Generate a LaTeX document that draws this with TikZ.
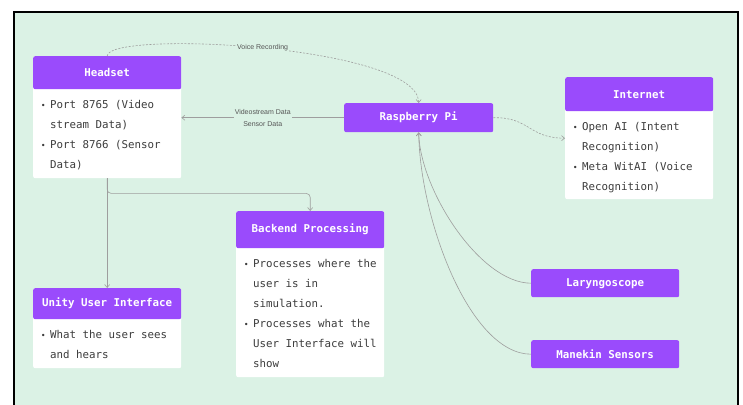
\documentclass[tikz,border=0pt]{standalone}
\usepackage{fontspec}
\usepackage{graphicx}
\setmonofont{DejaVu Sans Mono}
\setsansfont{Liberation Sans}
\usetikzlibrary{arrows.meta,calc}
\definecolor{bg}{HTML}{DBF2E5}
\definecolor{purp}{HTML}{9A4BFC}
\definecolor{txt}{HTML}{3C3C3C}
\definecolor{lnk}{HTML}{9E9E9E}
\definecolor{lbltxt}{HTML}{555555}
\newcommand\bul{\makebox[14pt][c]{\scalebox{0.75}{•}}}
\newcommand\ind{\hspace*{14pt}}
\begin{document}
\begin{tikzpicture}[x=1pt,y=-1pt,
 hdr/.style={fill=purp, text=white, font=\ttfamily\bfseries\fontsize{10.8}{13}\selectfont, rounded corners=2pt, anchor=north west, inner sep=0pt, minimum width=148pt},
 bodybox/.style={fill=white, rounded corners=2pt, anchor=north west, inner sep=0pt, minimum width=148pt},
 btext/.style={anchor=north west, inner sep=0pt, align=left, text=txt, font=\ttfamily\fontsize{10.8}{20}\selectfont},
 conn/.style={draw=lnk, line width=0.6pt, -{Straight Barb[length=3pt,width=5pt]}},
 dashline/.style={dash pattern=on 2pt off 1.5pt},
 lbl/.style={fill=bg, inner sep=1pt, text=lbltxt, font=\sffamily\fontsize{7}{12}\selectfont, align=center}]
\useasboundingbox (0,0) rectangle (743,404);
\fill[white] (0,0) rectangle (743,404);
\draw[fill=bg, line width=1.5pt] (14,12) rectangle (738,430);

% Headset
\node[bodybox, minimum height=122pt] (hsb) at (33,56) {};
\node[hdr, minimum height=33pt] (hs) at (33,56) {Headset};
\node[btext] (hst) at (36,100) {\bul Port 8765 (Video\\\ind stream Data)\\\bul Port 8766 (Sensor\\\ind Data)};

% Internet
\node[bodybox, minimum height=122pt] (ib) at (565,77) {};
\node[hdr, minimum height=34pt] (ih) at (565,77) {Internet};
\node[btext] (ist) at (568,122) {\bul Open AI (Intent\\\ind Recognition)\\\bul Meta WitAI (Voice\\\ind Recognition)};

% Backend
\node[bodybox, minimum height=166pt] (bb) at (236,211) {};
\node[hdr, minimum height=37pt] (bh) at (236,211) {Backend Processing};
\node[btext] (bt) at (239,259) {\bul Processes where the\\\ind user is in\\\ind simulation.\\\bul Processes what the\\\ind User Interface will\\\ind show};

% Unity
\node[bodybox, minimum height=80pt] (ub) at (33,288) {};
\node[hdr, minimum height=31pt] (uh) at (33,288) {Unity User Interface};
\node[btext] (ut) at (36,330) {\bul What the user sees\\\ind and hears};

% Single boxes
\node[hdr, minimum width=149pt, minimum height=29pt] (rp) at (344,103) {Raspberry Pi};
\node[hdr, minimum height=28pt] (lg) at (531,269) {Laryngoscope};
\node[hdr, minimum height=28pt] (ms) at (531,340) {Manekin Sensors};

% Connectors
\draw[conn, dashline] (hs.north) .. controls (107,30) and (418,45) .. (rp.north)
  node[lbl, pos=0.5] (vr) {Voice Recording};
\draw[conn] (rp.west) -- (rp.west -| hsb.east)
  node[lbl, midway] (vs) {Videostream Data\\Sensor Data};
\draw[conn, dashline] (rp.east) .. controls (530,117) and (528,138) .. (ib.west);
\draw[conn] (hsb.south) -- (uh.north);
\draw[conn, rounded corners=4pt] (hsb.south) -- ++(0,15) -| (bh.north);
\draw[conn] (lg.west) .. controls (480,283) and (420,190) .. (rp.south);
\draw[conn] (ms.west) .. controls (470,354) and (420,220) .. (rp.south);
\end{tikzpicture}
\end{document}
